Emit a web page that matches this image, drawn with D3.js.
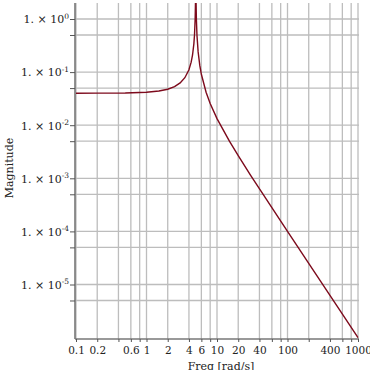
<!DOCTYPE html>
<html>
<head>
<meta charset="utf-8">
<script src="https://cdn.jsdelivr.net/npm/d3@7"></script>
<style>
  body { margin: 0; background: #fff; }
  text { font-family: "DejaVu Serif", serif; fill: #222; }
</style>
</head>
<body>
<div id="chart"></div>
<script>
// frequency response (rad/s, magnitude)
const freq = [0.1, 0.2, 0.5, 1, 1.5, 2, 2.5, 3, 3.5, 4, 4.3, 4.5, 4.7, 4.8, 4.9, 4.95, 5,
  5.05, 5.1, 5.2, 5.4, 5.7, 6, 7, 8, 10, 15, 20, 30, 50, 100, 200, 500, 1000]
const magnitude = [0.04, 0.0401, 0.0404, 0.0417, 0.044, 0.0476, 0.0533, 0.0625, 0.0784, 0.111,
  0.154, 0.21, 0.344, 0.51, 1.01, 2.0, 5.0,
  1.99, 0.99, 0.49, 0.24, 0.1335, 0.0909, 0.0417, 0.0256, 0.01333, 0.005, 0.00267, 0.00114,
  0.000404, 0.0001, 0.000025, 0.000004, 0.000001]

const xGrid = [0.1, 0.2, 0.4, 0.6, 0.8, 1, 2, 4, 6, 8, 10, 20, 40, 60, 80, 100, 200, 400, 600, 800, 1000]
const xLabels = [0.1, 0.2, 0.6, 1, 2, 4, 6, 10, 20, 40, 100, 400, 1000]
const yGrid = [1, 0.5, 0.1, 0.05, 0.01, 0.005, 0.001, 0.0005, 0.0001, 0.00005, 0.00001, 0.000005]
const yExponents = [0, -1, -2, -3, -4, -5]

const W = 370
const H = 370
const plotLeft = 75
const plotRight = 359
const plotTop = 3
const plotBottom = 339

const svg = d3.select('#chart').append('svg')
  .attr('width', W)
  .attr('height', H)

const x = d3.scaleLog().domain([0.1, 1000]).range([76, 358])
const y = d3.scaleLog().domain([1e-6, 1]).range([337.6, 19])

// grid
svg.append('g')
  .selectAll('line')
  .data(xGrid)
  .enter()
  .append('line')
  .attr('x1', d => x(d)).attr('x2', d => x(d))
  .attr('y1', plotTop).attr('y2', plotBottom)
  .attr('stroke', '#bdbdbd')
  .attr('stroke-width', 1.3)

svg.append('g')
  .selectAll('line')
  .data(yGrid)
  .enter()
  .append('line')
  .attr('x1', plotLeft).attr('x2', plotRight)
  .attr('y1', d => y(d)).attr('y2', d => y(d))
  .attr('stroke', '#bdbdbd')
  .attr('stroke-width', 1.3)

// curve
svg.append('clipPath').attr('id', 'clip')
  .append('rect')
  .attr('x', plotLeft).attr('y', plotTop)
  .attr('width', plotRight - plotLeft).attr('height', plotBottom - plotTop)

const pts = freq.map((f, i) => [f, magnitude[i]])
svg.append('path')
  .datum(pts)
  .attr('clip-path', 'url(#clip)')
  .attr('fill', 'none')
  .attr('stroke', '#7d0a1c')
  .attr('stroke-width', 1.4)
  .attr('d', d3.line().x(d => x(d[0])).y(d => y(d[1])))

// axes
const xAxis = svg.append('g')
  .attr('transform', `translate(0,${plotBottom})`)
  .call(d3.axisBottom(x).tickValues(xGrid).tickSize(3).tickFormat(''))
xAxis.select('.domain').attr('d', `M${plotLeft},0H${plotRight}`)

xAxis.selectAll('.tick')
  .filter(d => xLabels.includes(d))
  .append('text')
  .attr('y', 15)
  .attr('text-anchor', 'middle')
  .style('font-size', '10.5px')
  .text(d => d)

const yAxis = svg.append('g')
  .attr('transform', `translate(${plotLeft},0)`)
  .call(d3.axisLeft(y).tickValues(yGrid).tickSize(5).tickFormat(''))
yAxis.select('.domain').attr('d', `M0,${plotTop}V${plotBottom}`)

const yLab = yAxis.selectAll('.tick')
  .filter(d => yExponents.includes(Math.round(Math.log10(d) * 1000) / 1000))
  .append('text')
  .attr('x', -6)
  .attr('dy', '0.35em')
  .attr('text-anchor', 'end')
  .style('font-size', '11px')
yLab.append('tspan').text('1. × 10')
yLab.append('tspan')
  .attr('dy', '-0.6em')
  .style('font-size', '7.5px')
  .text(d => Math.round(Math.log10(d)))

svg.selectAll('.domain')
  .attr('stroke', '#777')
  .attr('stroke-width', 1.6)
svg.selectAll('.tick line')
  .attr('stroke', '#555')

// axis titles
svg.append('text')
  .attr('transform', `translate(13,168) rotate(-90)`)
  .attr('text-anchor', 'middle')
  .style('font-size', '11px')
  .text('Magnitude')

svg.append('text')
  .attr('x', 221)
  .attr('y', 370)
  .attr('text-anchor', 'middle')
  .style('font-size', '11px')
  .text('Freq [rad/s]')
</script>
</body>
</html>
